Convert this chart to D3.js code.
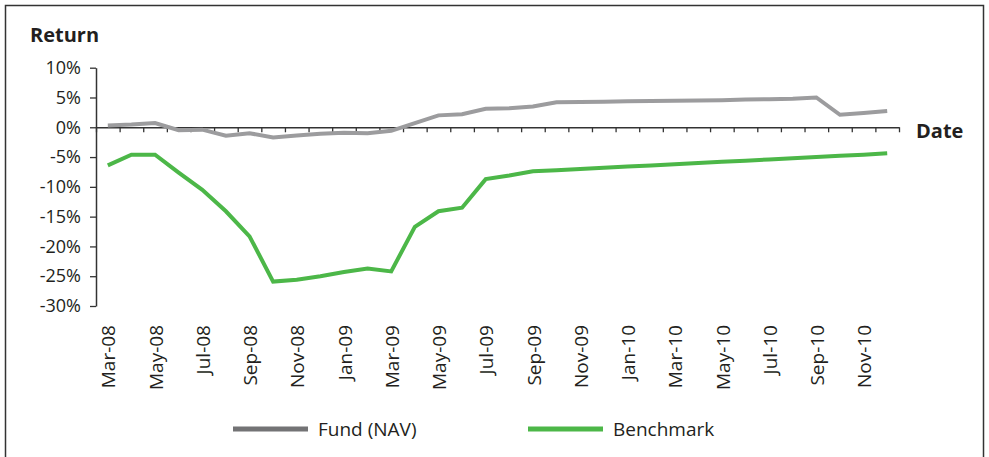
<!DOCTYPE html>
<html>
<head>
<meta charset="utf-8">
<script src="https://cdn.jsdelivr.net/npm/d3@7"></script>
<style>
  body { margin: 0; background: #fff; }
  text { font-family: "Open Sans", "Noto Sans", sans-serif; fill: #231f20; }
</style>
</head>
<body>
<div id="chart"></div>
<script>
// Data
const months = ["Mar-08","Apr-08","May-08","Jun-08","Jul-08","Aug-08","Sep-08","Oct-08","Nov-08","Dec-08",
                "Jan-09","Feb-09","Mar-09","Apr-09","May-09","Jun-09","Jul-09","Aug-09","Sep-09","Oct-09",
                "Nov-09","Dec-09","Jan-10","Feb-10","Mar-10","Apr-10","May-10","Jun-10","Jul-10","Aug-10",
                "Sep-10","Oct-10","Nov-10","Dec-10"]
const fundNav = [0.3, 0.45, 0.7, -0.5, -0.4, -1.4, -1.0, -1.7, -1.4, -1.1,
                 -0.9, -1.0, -0.6, 0.7, 2.0, 2.2, 3.1, 3.2, 3.5, 4.2,
                 4.25, 4.3, 4.35, 4.4, 4.45, 4.5, 4.55, 4.65, 4.7, 4.8,
                 5.0, 2.1, 2.4, 2.75]
const benchmark = [-6.4, -4.6, -4.6, -7.6, -10.5, -14.1, -18.3, -25.9, -25.6, -25.0,
                   -24.3, -23.7, -24.2, -16.7, -14.1, -13.5, -8.7, -8.1, -7.4, -7.2,
                   -7.0, -6.8, -6.6, -6.4, -6.2, -6.0, -5.8, -5.6, -5.4, -5.2,
                   -5.0, -4.8, -4.6, -4.35]
const yTicks = [-30, -25, -20, -15, -10, -5, 0, 5, 10]
const xLabels = months.filter((m, i) => i % 2 === 0)
const seriesNames = ["Fund (NAV)", "Benchmark"]

// Chart parameters
const WIDTH = 989
const HEIGHT = 457
const PLOT = {LEFT: 96, RIGHT: 899, TOP: 67.7, BOTTOM: 306}
const COLOURS = {fund: "#9c9c9e", bench: "#4cb748", legendFund: "#737375", legendBench: "#4cb748"}

let svg = d3.select("#chart").append("svg")
    .attr("width", WIDTH)
    .attr("height", HEIGHT)

// Outer frame
svg.append("rect")
    .attr("x", 5.5).attr("y", 5.5)
    .attr("width", 978).attr("height", 470)
    .attr("fill", "none")
    .attr("stroke", "#333")
    .attr("stroke-width", 1.5)

// Scales
let xScale = d3.scaleBand()
    .domain(months)
    .range([PLOT.LEFT, PLOT.RIGHT])

let xEdge = d3.scaleLinear()                  // category boundaries, for the tick marks
    .domain([0, months.length])
    .range([PLOT.LEFT, PLOT.RIGHT])

let yScale = d3.scaleLinear()
    .domain([-30, 10])
    .range([PLOT.BOTTOM, PLOT.TOP])

// y axis
let yAxis = svg.append("g")
    .attr("transform", "translate(" + PLOT.LEFT + ",0)")
    .call(d3.axisLeft(yScale).tickValues(yTicks).tickFormat(d => d + "%").tickSize(6).tickSizeOuter(0))
yAxis.select(".domain").attr("stroke", "#333").attr("stroke-width", 1.5)
yAxis.selectAll(".tick line").attr("stroke", "#333").attr("stroke-width", 1.3)
yAxis.selectAll(".tick text")
    .attr("x", -15)
    .style("font-size", "18px")
    .style("font-family", "'Open Sans', sans-serif")
    .attr("fill", "#231f20")

// x axis along zero
let xAxis = svg.append("g")
    .attr("transform", "translate(0," + yScale(0) + ")")
    .call(d3.axisBottom(xEdge).tickValues(d3.range(months.length + 1)).tickFormat("").tickSize(5).tickSizeOuter(0))
xAxis.select(".domain").attr("stroke", "#333").attr("stroke-width", 1.5)
xAxis.selectAll(".tick line").attr("stroke", "#333").attr("stroke-width", 1.3)

// x labels, low position, rotated
svg.append("g").selectAll("text")
    .data(xLabels)
    .enter()
    .append("text")
        .attr("transform", d => "translate(" + (xScale(d) + xScale.bandwidth() / 2 + 1) + ",325) rotate(-90)")
        .attr("text-anchor", "end")
        .attr("dy", "0.35em")
        .style("font-size", "19px")
        .text(d => d)

// Lines
let line = d3.line()
    .x((d, i) => xScale(months[i]) + xScale.bandwidth() / 2)
    .y(d => yScale(d))

svg.append("path")
    .datum(fundNav)
    .attr("d", line)
    .attr("fill", "none")
    .attr("stroke", COLOURS.fund)
    .attr("stroke-width", 4)

svg.append("path")
    .datum(benchmark)
    .attr("d", line)
    .attr("fill", "none")
    .attr("stroke", COLOURS.bench)
    .attr("stroke-width", 4)

// Axis titles
svg.append("text")
    .attr("x", 30).attr("y", 42)
    .style("font-size", "20px").style("font-weight", "bold")
    .text("Return")

svg.append("text")
    .attr("x", 916).attr("y", 138)
    .style("font-size", "20px").style("font-weight", "bold")
    .text("Date")

// Legend
const legendItems = [
    {name: seriesNames[0], colour: COLOURS.legendFund, x: 233},
    {name: seriesNames[1], colour: COLOURS.legendBench, x: 528}
]
let legend = svg.append("g").selectAll("g")
    .data(legendItems)
    .enter()
    .append("g")
        .attr("transform", d => "translate(" + d.x + ",429)")
legend.append("line")
    .attr("x1", 0).attr("x2", 75)
    .attr("stroke", d => d.colour)
    .attr("stroke-width", 5)
legend.append("text")
    .attr("x", 85).attr("dy", "0.35em")
    .style("font-size", "19px")
    .text(d => d.name)
</script>
</body>
</html>
